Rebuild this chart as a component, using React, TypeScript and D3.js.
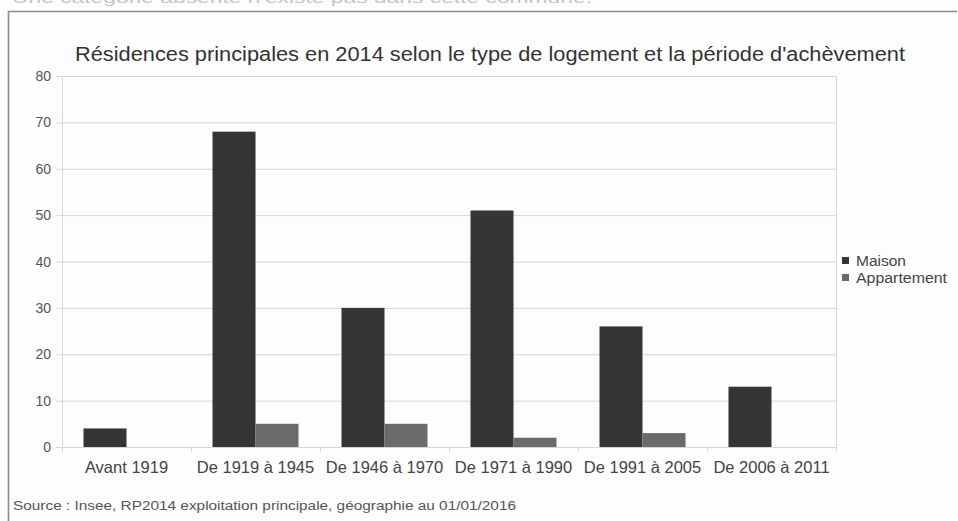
import React, { useEffect, useRef } from 'react';
import * as d3 from 'd3';

const categories = ['Avant 1919', 'De 1919 à 1945', 'De 1946 à 1970', 'De 1971 à 1990', 'De 1991 à 2005', 'De 2006 à 2011'];
const maison = [4, 68, 30, 51, 26, 13];
const appartement = [0, 5, 5, 2, 3, 0];
const seriesNames = ['Maison', 'Appartement'];
const yTicks = [0, 10, 20, 30, 40, 50, 60, 70, 80];

const App: React.FC = () => {
  const ref = useRef<SVGSVGElement>(null);

  useEffect(() => {
    if (!ref.current) return;
    document.body.style.margin = '0';
    const svg = d3.select(ref.current);
    svg.selectAll('*').remove();

    const font = '"Liberation Sans", Arial, sans-serif';
    const margin = { top: 76, left: 62, right: 122, bottom: 74 };
    const width = 958;
    const height = 521;

    svg.append('rect').attr('width', width).attr('height', height).attr('fill', '#fdfdfd');

    // cut-off line of text above the frame
    svg.append('text')
      .attr('x', 12).attr('y', 3)
      .attr('font-family', font).attr('font-size', 14).attr('fill', '#c4c4c4')
      .attr('textLength', 580).attr('lengthAdjust', 'spacingAndGlyphs')
      .text('Une catégorie absente n\'existe pas dans cette commune.');

    // frame
    svg.append('path')
      .attr('d', `M8.5,${height} V11.5 H${width - 1}`)
      .attr('fill', 'none').attr('stroke', '#8c8c8c').attr('stroke-width', 1.6);

    const x = d3.scaleBand().domain(categories).range([margin.left, width - margin.right]);
    const inner = d3.scaleBand().domain(seriesNames).range([0, x.bandwidth()]).paddingOuter(0.5).paddingInner(0);
    const y = d3.scaleLinear().domain([0, 80]).range([height - margin.bottom, margin.top]);

    // grid
    svg.append('g').selectAll('line').data(yTicks).join('line')
      .attr('x1', margin.left - 6).attr('x2', width - margin.right)
      .attr('y1', d => y(d) + 0.5).attr('y2', d => y(d) + 0.5)
      .attr('stroke', '#d6d6d6');

    // plot edges
    svg.append('line').attr('x1', margin.left + 0.5).attr('x2', margin.left + 0.5)
      .attr('y1', y(80)).attr('y2', y(0) + 5).attr('stroke', '#d6d6d6');
    svg.append('line').attr('x1', width - margin.right + 0.5).attr('x2', width - margin.right + 0.5)
      .attr('y1', y(80)).attr('y2', y(0) + 5).attr('stroke', '#d6d6d6');
    svg.append('g').selectAll('line').data(categories.slice(1)).join('line')
      .attr('x1', d => (x(d) as number) + 0.5).attr('x2', d => (x(d) as number) + 0.5)
      .attr('y1', y(0)).attr('y2', y(0) + 5).attr('stroke', '#d6d6d6');

    // y labels
    svg.append('g').selectAll('text').data(yTicks).join('text')
      .attr('x', 51).attr('y', d => y(d) + 5)
      .attr('text-anchor', 'end')
      .attr('font-family', font).attr('font-size', 14).attr('fill', '#555')
      .text(d => d);

    // bars
    const colors: Record<string, string> = { Maison: '#353535', Appartement: '#6a6a6a' };
    const values: Record<string, number[]> = { Maison: maison, Appartement: appartement };
    seriesNames.forEach(s => {
      svg.append('g').selectAll('rect').data(categories).join('rect')
        .attr('x', d => (x(d) as number) + (inner(s) as number))
        .attr('width', inner.bandwidth())
        .attr('y', (d, i) => y(values[s][i]))
        .attr('height', (d, i) => y(0) - y(values[s][i]))
        .attr('fill', colors[s]);
    });

    // x labels
    svg.append('g').selectAll('text').data(categories).join('text')
      .attr('x', d => (x(d) as number) + x.bandwidth() / 2)
      .attr('y', y(0) + 26)
      .attr('text-anchor', 'middle')
      .attr('font-family', font).attr('font-size', 16.5).attr('fill', '#444')
      .text(d => d);

    // title
    svg.append('text')
      .attr('x', 75).attr('y', 61)
      .attr('font-family', font).attr('font-size', 19.5).attr('fill', '#333')
      .attr('textLength', 830).attr('lengthAdjust', 'spacingAndGlyphs')
      .text('Résidences principales en 2014 selon le type de logement et la période d\'achèvement');

    // legend
    const lg = svg.append('g').attr('transform', 'translate(842,257)');
    seriesNames.forEach((s, i) => {
      lg.append('rect').attr('x', 0).attr('y', i * 17).attr('width', 7).attr('height', 7).attr('fill', colors[s]);
      lg.append('text').attr('x', 14).attr('y', i * 17 + 9)
        .attr('font-family', font).attr('font-size', 14).attr('fill', '#444')
        .attr('textLength', s === 'Maison' ? 50 : 91).attr('lengthAdjust', 'spacingAndGlyphs')
        .text(s);
    });

    // source
    svg.append('text')
      .attr('x', 13).attr('y', 510)
      .attr('font-family', font).attr('font-size', 12.5).attr('fill', '#555')
      .attr('textLength', 503).attr('lengthAdjust', 'spacingAndGlyphs')
      .text('Source : Insee, RP2014 exploitation principale, géographie au 01/01/2016');
  }, []);

  return <svg ref={ref} width={958} height={521} style={{ display: 'block' }} />;
};

export default App;
